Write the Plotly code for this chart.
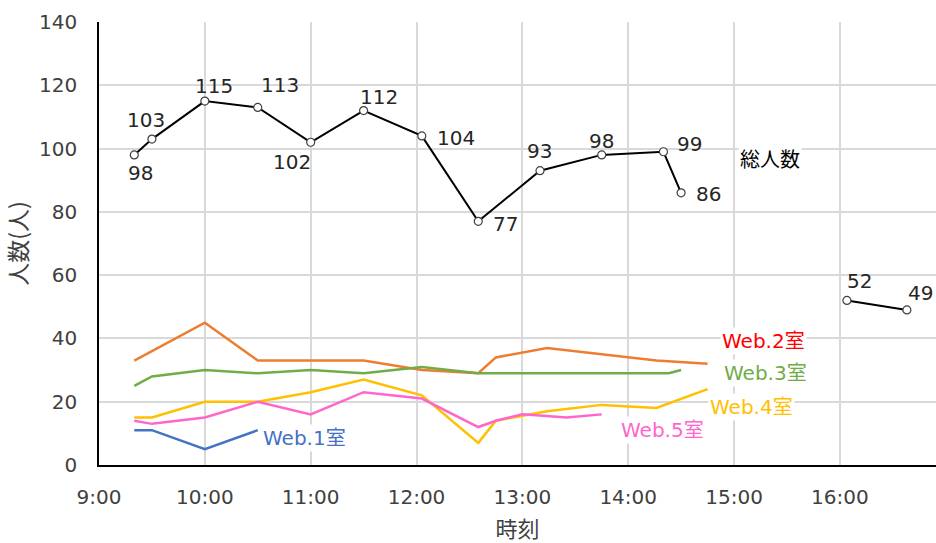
import plotly.graph_objects as go

# ---- data ----
day = "2024-01-01 "

total_times = ["09:20", "09:30", "10:00", "10:30", "11:00", "11:30", "12:03", "12:35",
               "13:10", "13:45", "14:20", "14:30", "15:15", "16:04", "16:38"]
total_vals = [98, 103, 115, 113, 102, 112, 104, 77, 93, 98, 99, 86, None, 52, 49]
# pixel offsets (dx right, dy down) of each value label from its point
total_label_dx = [6, -6, 9, 22, -19, 15, 34, 27, 0, 0, 26, 27, 0, 13, 14]
total_label_dy = [18, -19, -15, -22, 20, -14, 2, 3, -20, -14, -8, 1, 0, -19, -17]

web1_times = ["09:20", "09:30", "10:00", "10:30"]
web1_vals = [11, 11, 5, 11]

web2_times = ["09:20", "10:00", "10:30", "11:00", "11:30", "12:03", "12:35", "12:45",
              "13:14", "14:16", "14:45"]
web2_vals = [33, 45, 33, 33, 33, 30, 29, 34, 37, 33, 32]

web3_times = ["09:20", "09:30", "10:00", "10:30", "11:00", "11:30", "12:03", "12:35",
              "12:45", "13:14", "13:45", "14:23", "14:30"]
web3_vals = [25, 28, 30, 29, 30, 29, 31, 29, 29, 29, 29, 29, 30]

web4_times = ["09:20", "09:30", "10:00", "10:30", "11:00", "11:30", "12:03", "12:35",
              "12:45", "13:14", "13:45", "14:16", "14:45"]
web4_vals = [15, 15, 20, 20, 23, 27, 22, 7, 14, 17, 19, 18, 24]

web5_times = ["09:20", "09:30", "10:00", "10:30", "11:00", "11:30", "12:03", "12:35",
              "12:45", "13:00", "13:25", "13:45"]
web5_vals = [14, 13, 15, 20, 16, 23, 21, 12, 14, 16, 15, 16]

series_labels = ["Web.1室", "Web.2室", "Web.3室", "Web.4室", "Web.5室", "総人数"]
label_times = ["10:32", "14:52", "14:53", "14:45", "13:55", "15:02"]
label_vals = [8.5, 39.2, 29.1, 18.3, 11.1, 96.4]
label_colors = ["#4472C4", "#FF0000", "#70AD47", "#FFC000", "#FF66CC", "#000000"]

x_ticks = ["09:00", "10:00", "11:00", "12:00", "13:00", "14:00", "15:00", "16:00"]


def ts(lst):
    return [day + t for t in lst]


FONT = "DejaVu Sans, Noto Sans CJK JP, sans-serif"
CJK = "Noto Sans CJK JP, DejaVu Sans, sans-serif"

fig = go.Figure()

rooms = [
    (web2_times, web2_vals, "#ED7D31"),
    (web3_times, web3_vals, "#70AD47"),
    (web4_times, web4_vals, "#FFC000"),
    (web5_times, web5_vals, "#FF66CC"),
    (web1_times, web1_vals, "#4472C4"),
]
for t, v, c in rooms:
    fig.add_trace(go.Scatter(x=ts(t), y=v, mode="lines",
                             line=dict(color=c, width=2.5), showlegend=False,
                             hoverinfo="skip"))

fig.add_trace(go.Scatter(
    x=ts(total_times), y=total_vals, mode="lines+markers",
    line=dict(color="#000000", width=2),
    marker=dict(symbol="circle", size=8, color="#FFFFFF",
                line=dict(color="#404040", width=1.2)),
    cliponaxis=False, connectgaps=False, showlegend=False,
))

# value labels of the total line
for t, v, dx, dy in zip(total_times, total_vals, total_label_dx, total_label_dy):
    if v is None:
        continue
    fig.add_annotation(x=day + t, y=v, text=str(v), showarrow=False,
                       xanchor="center", yanchor="middle",
                       xshift=dx, yshift=-dy,
                       font=dict(family=FONT, size=20, color="#262626"))

# series name labels
for lab, t, v, c in zip(series_labels, label_times, label_vals, label_colors):
    fig.add_annotation(x=day + t, y=v, text=lab, showarrow=False,
                       xanchor="left", yanchor="middle",
                       font=dict(family=FONT, size=20, color=c),
                       bgcolor="#FFFFFF", borderpad=1)

fig.update_layout(
    width=936, height=543,
    margin=dict(l=99, r=0, t=22, b=78),
    paper_bgcolor="#FFFFFF", plot_bgcolor="#FFFFFF",
    font=dict(family=FONT, size=20, color="#404040"),
)

fig.update_xaxes(
    type="date",
    range=[day + "09:00", day + "16:54:30"],
    tickvals=ts(x_ticks),
    ticktext=[t.lstrip("0") for t in x_ticks],
    showgrid=True, gridcolor="#D9D9D9", gridwidth=1.5,
    showline=True, linecolor="#000000", linewidth=1.5,
    ticks="", ticklabelstandoff=13,
    tickfont=dict(family=FONT, size=20, color="#404040"),
    title=dict(text="時刻", font=dict(family=CJK, size=22, color="#404040"), standoff=15),
    zeroline=False,
)
fig.update_yaxes(
    range=[0, 140], dtick=20, tick0=0,
    showgrid=True, gridcolor="#D9D9D9", gridwidth=1.5,
    showline=True, linecolor="#000000", linewidth=1.5,
    ticks="", ticklabelstandoff=16,
    tickfont=dict(family=FONT, size=20, color="#404040"),
    title=dict(text="人数(人)", font=dict(family=CJK, size=23, color="#404040"), standoff=6),
    zeroline=False,
)

fig.write_html("out.html")
